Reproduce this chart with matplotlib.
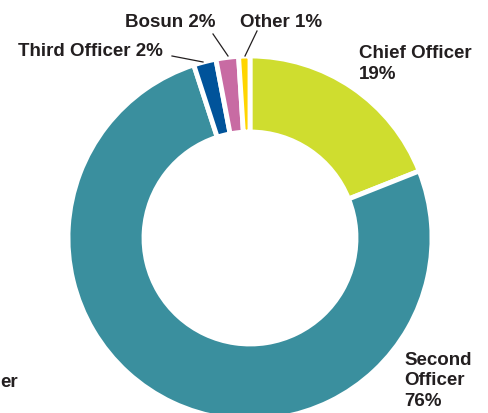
import matplotlib
matplotlib.use("Agg")
import matplotlib.pyplot as plt

categories = ["Chief Officer", "Second Officer", "Third Officer", "Bosun", "Other"]
values = [19, 76, 2, 2, 1]
colors = ["#cfdd2f", "#3a8f9e", "#00539a", "#c86ba3", "#ffd500"]

W, H = 489, 414
fig = plt.figure(figsize=(W / 100, H / 100), dpi=100)
ax = fig.add_axes([0, 0, 1, 1])

cx, cy, R = 250, H - 239, 182
ax.pie(values, colors=colors, startangle=90, counterclock=False,
       center=(cx, cy), radius=R, frame=True,
       wedgeprops=dict(width=76, edgecolor="white", linewidth=3.5))
ax.set_xlim(0, W)
ax.set_ylim(0, H)
ax.set_aspect("equal")
ax.axis("off")

font = dict(family=["Liberation Sans", "DejaVu Sans"], fontweight="bold",
            fontsize=13.5, color="#231f20")

def T(x, y, s, **kw):
    d = dict(font)
    d.update(kw)
    ax.text(x, H - y, s, **d)

T(359, 64, "Chief Officer\n19%", ha="left", va="center", linespacing=1.27)
T(404, 381, "Second\nOfficer\n76%", ha="left", va="center", linespacing=1.25)
T(163, 51, "Third Officer 2%", ha="right", va="center")
T(170, 22, "Bosun 2%", ha="center", va="center")
T(281, 22, "Other 1%", ha="center", va="center")
T(0, 383, "er", ha="left", va="center")

lines = [((172, 57), (203, 63)), ((213, 35), (228, 57)), ((257, 32), (245, 57))]
for (x0, y0), (x1, y1) in lines:
    ax.plot([x0, x1], [H - y0, H - y1], color="#231f20", lw=0.9)

fig.savefig("out.png", dpi=100)
